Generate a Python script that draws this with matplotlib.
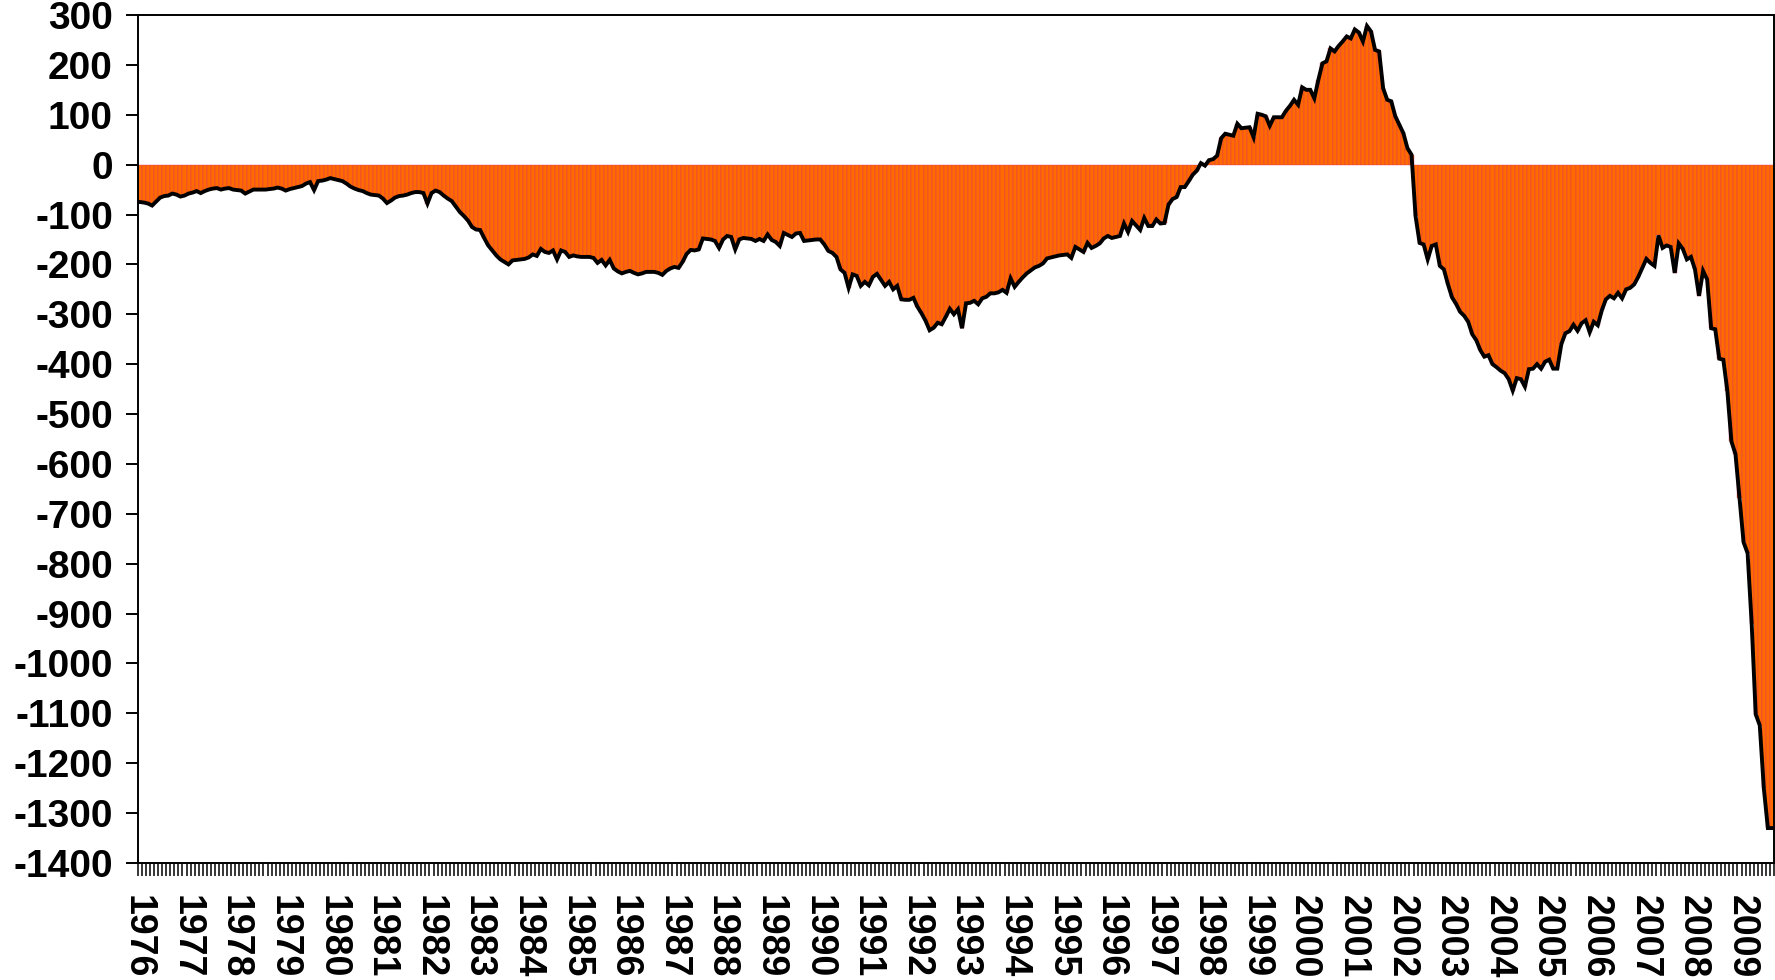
import matplotlib
matplotlib.use("Agg")
import matplotlib.pyplot as plt
import numpy as np

plt.rcParams['font.family'] = ['Liberation Sans', 'DejaVu Sans']
plt.rcParams['axes.unicode_minus'] = False

# Monthly values, Jan 1976 - Aug 2009
y1976 = [-75, -76, -78, -82, -74, -66, -63, -62, -58, -60, -64, -62]
y1977 = [-58, -56, -53, -57, -53, -50, -48, -47, -50, -48, -47, -50]
y1978 = [-51, -52, -58, -54, -50, -50, -50, -50, -49, -48, -46, -48]
y1979 = [-52, -49, -47, -45, -43, -38, -35, -51, -33, -32, -30, -27]
y1980 = [-29, -31, -33, -38, -44, -48, -51, -53, -57, -60, -61, -62]
y1981 = [-68, -77, -72, -66, -63, -62, -60, -57, -55, -55, -57, -78]
y1982 = [-57, -52, -55, -62, -68, -73, -84, -95, -103, -112, -125, -130]
y1983 = [-131, -147, -162, -172, -182, -190, -195, -200, -192, -191, -190, -189]
y1984 = [-186, -180, -183, -169, -175, -177, -172, -190, -172, -175, -185, -182]
y1985 = [-184, -185, -185, -185, -187, -197, -191, -202, -191, -208, -214, -218]
y1986 = [-215, -213, -217, -220, -218, -215, -215, -215, -217, -221, -213, -208]
y1987 = [-205, -207, -195, -179, -171, -172, -170, -148, -149, -150, -153, -167]
y1988 = [-150, -143, -145, -170, -150, -147, -148, -149, -153, -149, -153, -140]
y1989 = [-151, -155, -163, -137, -141, -145, -138, -137, -153, -152, -151, -150]
y1990 = [-150, -160, -173, -177, -185, -210, -217, -247, -220, -223, -243, -235]
y1991 = [-242, -225, -219, -231, -243, -235, -250, -243, -270, -271, -271, -267]
y1992 = [-285, -298, -313, -332, -327, -317, -320, -305, -289, -300, -290, -328]
y1993 = [-278, -277, -273, -280, -268, -265, -258, -258, -256, -251, -257, -228]
y1994 = [-245, -235, -226, -218, -212, -206, -203, -198, -188, -186, -184, -182]
y1995 = [-181, -180, -187, -165, -170, -175, -157, -167, -163, -158, -148, -143]
y1996 = [-147, -145, -143, -118, -135, -113, -122, -131, -107, -123, -123, -110]
y1997 = [-118, -117, -80, -69, -65, -45, -45, -33, -20, -12, 3, -2]
y1998 = [9, 11, 18, 53, 62, 60, 58, 82, 73, 74, 75, 55]
y1999 = [102, 100, 97, 78, 95, 95, 95, 108, 118, 130, 120, 155]
y2000 = [150, 150, 133, 170, 203, 207, 233, 227, 238, 247, 257, 253]
y2001 = [271, 265, 247, 278, 267, 230, 227, 153, 130, 127, 97, 80]
y2002 = [63, 33, 20, -103, -157, -160, -190, -163, -160, -203, -210, -240]
y2003 = [-266, -279, -295, -303, -315, -340, -352, -372, -385, -382, -400, -406]
y2004 = [-413, -418, -430, -453, -428, -430, -445, -410, -409, -400, -409, -395]
y2005 = [-391, -409, -409, -360, -338, -334, -321, -333, -318, -312, -336, -315]
y2006 = [-322, -292, -270, -263, -268, -257, -268, -250, -247, -240, -225, -207]
y2007 = [-189, -197, -203, -142, -167, -162, -165, -217, -158, -169, -190, -185]
y2008 = [-210, -263, -213, -230, -328, -330, -389, -391, -454, -555, -580, -668]
y2009 = [-757, -779, -920, -1102, -1124, -1250, -1330, -1330]

year_labels = [str(y) for y in range(1976, 2010)]
y_ticks = list(range(-1400, 301, 100))

values = np.array(y1976 + y1977 + y1978 + y1979 + y1980 + y1981 + y1982 + y1983 +
                  y1984 + y1985 + y1986 + y1987 + y1988 + y1989 + y1990 + y1991 +
                  y1992 + y1993 + y1994 + y1995 + y1996 + y1997 + y1998 + y1999 +
                  y2000 + y2001 + y2002 + y2003 + y2004 + y2005 + y2006 + y2007 +
                  y2008 + y2009, dtype=float)
n = len(values)
x = np.arange(n)

fig = plt.figure(figsize=(17.75, 9.8), dpi=100)
ax = fig.add_axes([0.0777, 0.1194, 0.9217, 0.8653])

ax.bar(x, values, width=1.0, color='#FF6A00', edgecolor='#D8306A',
       linewidth=0.25, zorder=2)
ax.plot(x, values, color='black', linewidth=2.8, zorder=3,
        solid_joinstyle='miter')

ax.set_xlim(-0.5, n - 0.5)
ax.set_ylim(-1400, 300)

ax.set_yticks(y_ticks)
ax.set_yticklabels([str(v) for v in y_ticks], fontsize=28, fontweight='bold')
ax.tick_params(axis='y', direction='out', length=9, width=1.4, pad=9)

major_pos = [12 * i - 0.5 for i in range(len(year_labels))]
ax.set_xticks(major_pos)
ax.set_xticklabels(year_labels, rotation=-90, fontsize=27, fontweight='bold',
                   ha='center', va='top')
ax.set_xticks(np.arange(n + 1) - 0.5, minor=True)
ax.tick_params(axis='x', which='both', direction='out', length=9, width=1.1)
ax.tick_params(axis='x', which='major', pad=14)

for s in ax.spines.values():
    s.set_linewidth(1.4)
    s.set_color('black')

fig.savefig('out.png', dpi=100)
